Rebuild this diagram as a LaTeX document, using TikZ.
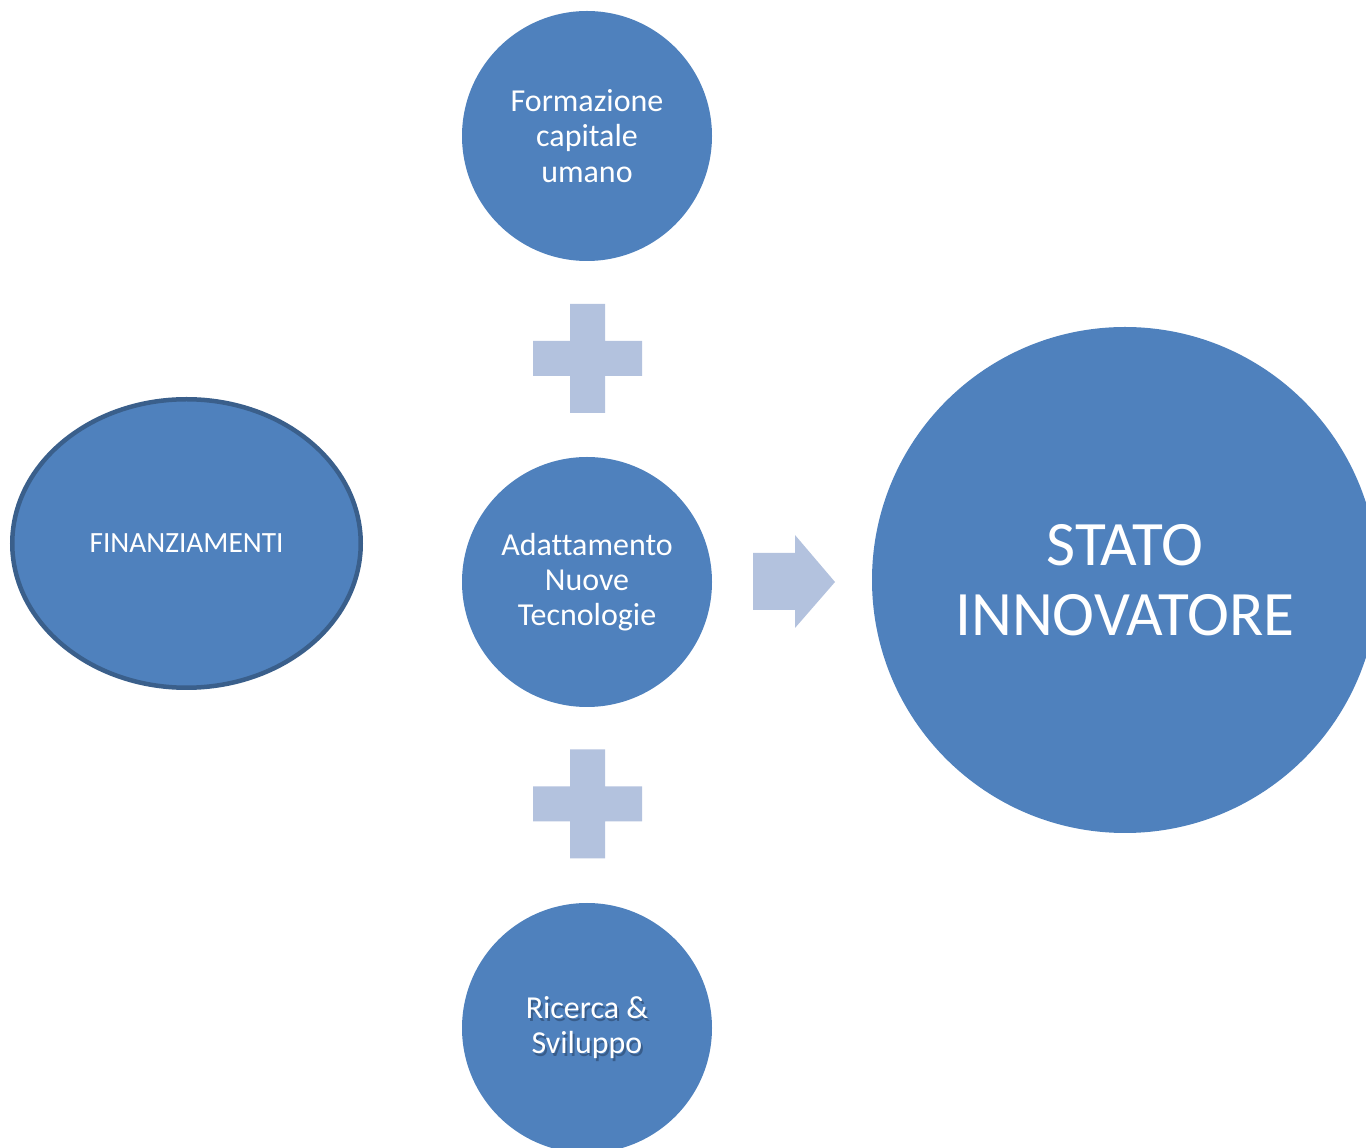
\documentclass[tikz,border=0pt]{standalone}
\usepackage{fontspec}
\setmainfont{Carlito}[Ligatures=CommonOff]
\usepackage{tikz}
\usetikzlibrary{shapes.geometric}
\definecolor{circblue}{RGB}{79,129,189}
\definecolor{ellborder}{RGB}{58,95,139}
\definecolor{lightsign}{RGB}{179,194,222}
\definecolor{shadowblue}{RGB}{30,50,80}

\begin{document}
\begin{tikzpicture}[
  bubble/.style={circle, fill=circblue, text=white, inner sep=0pt, minimum size=5cm, align=center, font=\fontsize{18.2}{20}\selectfont},
  sign/.style={fill=lightsign, draw=none}]
\useasboundingbox (0cm,0cm) rectangle (27.32cm,-22.96cm);
\clip (0cm,0cm) rectangle (27.32cm,-22.96cm);
\node[bubble] (1) at (11.74 cm,-2.72cm) {Formazione\\capitale\\umano};
\node[bubble] (2) at (11.74 cm,-11.64cm) {Adattamento\\Nuove\\Tecnologie};
\node[bubble] (3) at (11.74 cm,-20.56cm) {};
\node[text=shadowblue, opacity=0.45, align=center, font=\fontsize{18.2}{20}\selectfont] at ([shift={(0.04cm,-0.05cm)}]3.center) {Ricerca \&\\Sviluppo};
\node[text=white, align=center, font=\fontsize{18.2}{20}\selectfont] (3t) at (3.center) {Ricerca \&\\Sviluppo};
\node[ellipse, fill=circblue, draw=ellborder, line width=0.09cm, inner sep=0pt, minimum width=6.97cm, minimum height=5.77cm, text=white, font=\fontsize{16.7}{19}\selectfont] (4) at (3.73 cm,-10.87cm) {FINANZIAMENTI};
\node[bubble, minimum size=10.12cm, font=\fontsize{36}{40}\selectfont] (5) at (22.5 cm,-11.6cm) {STATO\\INNOVATORE};
% plus signs
\foreach \y in {-7.17,-16.08}
  \fill[sign] (11.4cm,\y cm+1.09cm) rectangle (12.1cm,\y cm-1.09cm)
              (10.66cm,\y cm+0.35cm) rectangle (12.84cm,\y cm-0.35cm);
% arrow
\fill[sign] (15.06cm,-11.06cm) -- (15.9cm,-11.06cm) -- (15.9cm,-10.7cm) -- (16.7cm,-11.64cm)
  -- (15.9cm,-12.56cm) -- (15.9cm,-12.2cm) -- (15.06cm,-12.2cm) -- cycle;
\end{tikzpicture}
\end{document}
